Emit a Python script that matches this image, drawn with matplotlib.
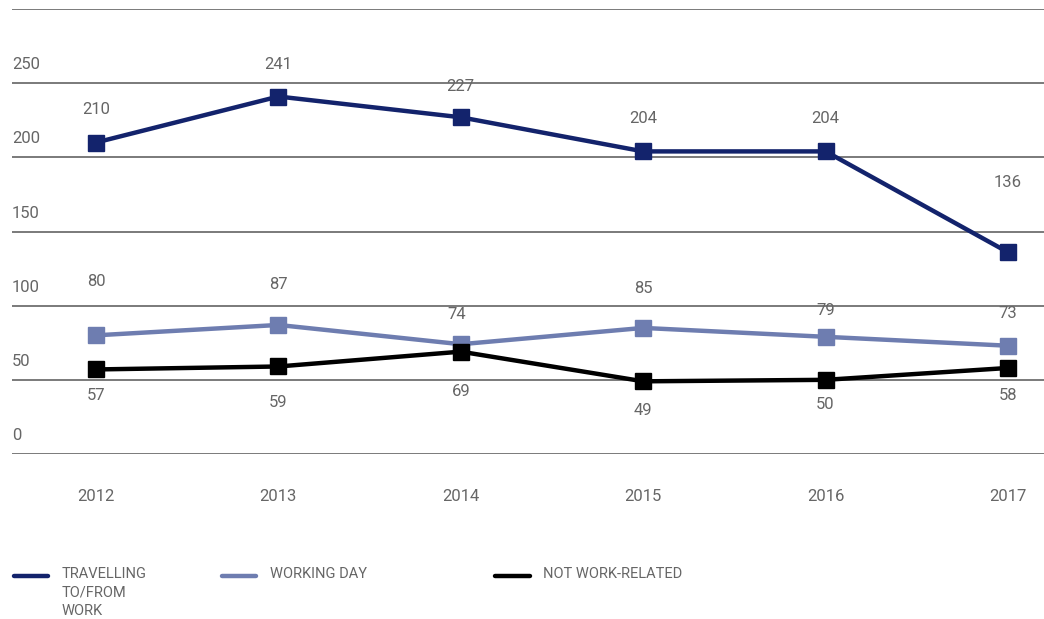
import numpy as np
import matplotlib.pyplot as plt
from matplotlib.lines import Line2D

plt.rcParams['font.family'] = ['Roboto', 'DejaVu Sans']

# data
years = [2012, 2013, 2014, 2015, 2016, 2017]
travelling = [210, 241, 227, 204, 204, 136]
working_day = [80, 87, 74, 85, 79, 73]
not_work = [57, 59, 69, 49, 50, 58]
series_names = ["TRAVELLING\nTO/FROM\nWORK", "WORKING DAY", "NOT WORK-RELATED"]
yticks = [0, 50, 100, 150, 200, 250, 300]

colors = ['#13236c', '#6e7db0', '#000000']
# label offsets in pixels (dx, dy) from the marker
offsets = [
    [(0, 33), (0, 32), (0, 31), (0, 33), (0, 33), (0, 70)],
    [(0, 54), (0, 40), (-4, 30), (0, 39), (0, 26), (0, 32)],
    [(0, -26), (0, -36), (0, -40), (0, -29), (0, -25), (0, -28)],
]
text_col = '#666666'

W, H = 1044, 619
fig = plt.figure(figsize=(W / 100, H / 100), dpi=100)
ax = fig.add_axes([12 / W, 1 - 454 / H, 1 - 12 / W, (454 - 9) / H])

ax.set_xlim(2012 - 84 / 182.4, 2017 + 36 / 182.4)
ax.set_ylim(0, 300)

for yt in yticks:
    ax.axhline(yt, color='#707070', lw=1.3, zorder=1)
    if yt < 300:
        ax.annotate(str(yt), (0, yt), xycoords=('axes fraction', 'data'),
                    xytext=(0, 11), textcoords='offset pixels',
                    ha='left', va='bottom', fontsize=12, color=text_col)

all_series = [travelling, working_day, not_work]
for vals, col, offs in zip(all_series, colors, offsets):
    ax.plot(years, vals, color=col, lw=3.2, marker='s', markersize=11,
            solid_joinstyle='miter', zorder=3)
    for x, v, (dx, dy) in zip(years, vals, offs):
        ax.annotate(str(v), (x, v), xytext=(dx, dy), textcoords='offset pixels',
                    ha='center', va='center', fontsize=12, color=text_col, zorder=4)

ax.set_xticks(years)
ax.set_xticklabels([str(y) for y in years], fontsize=12, color=text_col)
ax.tick_params(axis='x', length=0, pad=25)
ax.set_yticks([])
for s in ax.spines.values():
    s.set_visible(False)

# legend drawn by hand
leg_x = [(14, 48, 62), (222, 256, 270), (495, 530, 543)]
for (x0, x1, xt), col, name in zip(leg_x, colors, series_names):
    fig.add_artist(Line2D([x0 / W, x1 / W], [1 - 576 / H] * 2, color=col, lw=3.2,
                          solid_capstyle='round', transform=fig.transFigure))
    fig.text(xt / W, 1 - 567 / H, name, ha='left', va='top', fontsize=10.5,
             color=text_col, linespacing=1.4)

fig.savefig('out.png', dpi=100)
